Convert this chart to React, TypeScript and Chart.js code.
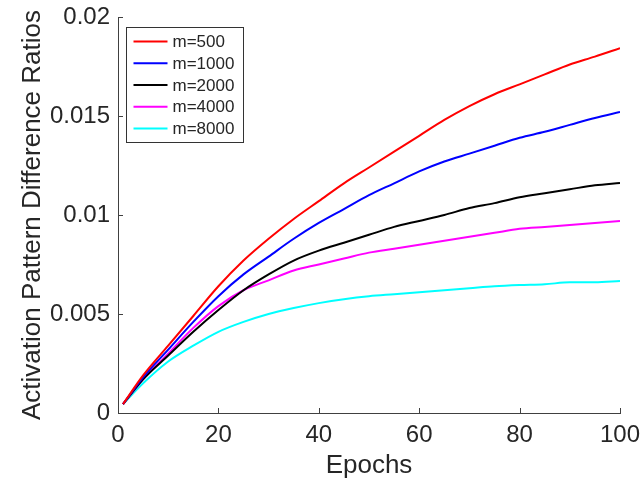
import { useEffect, useRef } from 'react';
import { Chart, registerables } from 'chart.js';

Chart.register(...registerables);

const epochs = [1, 5, 10, 15, 20, 25, 30, 35, 40, 45, 50, 55, 60, 65, 70, 75, 80, 85, 90, 95, 100];

const seriesLabels = ['m=500', 'm=1000', 'm=2000', 'm=4000', 'm=8000'];
const seriesColors = ['#ff0000', '#0000ff', '#000000', '#ff00ff', '#00ffff'];

const m500 = [0.00045, 0.0019, 0.0034, 0.0049, 0.0064, 0.0077, 0.0088, 0.0098, 0.0107, 0.0116, 0.0124, 0.0132, 0.014, 0.0148, 0.0155, 0.0161, 0.0166, 0.0171, 0.0176, 0.018, 0.01843];
const m1000 = [0.00045, 0.0018, 0.0032, 0.0046, 0.0059, 0.007, 0.0079, 0.0088, 0.0096, 0.0103, 0.011, 0.0116, 0.0122, 0.0127, 0.0131, 0.0135, 0.0139, 0.0142, 0.01455, 0.0149, 0.0152];
const m2000 = [0.00045, 0.0017, 0.0029, 0.0041, 0.0052, 0.0062, 0.007, 0.0077, 0.0082, 0.0086, 0.009, 0.0094, 0.0097, 0.01, 0.01035, 0.0106, 0.0109, 0.0111, 0.0113, 0.0115, 0.01162];
const m4000 = [0.00045, 0.0017, 0.003, 0.0043, 0.0054, 0.0062, 0.0067, 0.0072, 0.0075, 0.0078, 0.0081, 0.0083, 0.0085, 0.0087, 0.0089, 0.0091, 0.0093, 0.0094, 0.0095, 0.0096, 0.0097];
const m8000 = [0.00045, 0.0015, 0.0026, 0.0034, 0.0041, 0.0046, 0.005, 0.0053, 0.00555, 0.00575, 0.0059, 0.006, 0.0061, 0.0062, 0.0063, 0.0064, 0.00646, 0.0065, 0.0066, 0.0066, 0.00667];

const seriesValues = [m500, m1000, m2000, m4000, m8000];

const xTicks = [0, 20, 40, 60, 80, 100];
const yTicks = [0, 0.005, 0.01, 0.015, 0.02];
const yTickLabels = ['0', '0.005', '0.01', '0.015', '0.02'];

const FONT = '"Liberation Sans", Arial, Helvetica, sans-serif';
const TEXT = '#262626';
const AXIS = '#404040';

const zeroPad = (s: any) => {
  s.paddingTop = 0;
  s.paddingBottom = 0;
  s.paddingLeft = 0;
  s.paddingRight = 0;
};

const innerTicks = {
  id: 'innerTicks',
  afterDatasetsDraw(chart: any) {
    const { ctx, chartArea, scales } = chart;
    const x = scales.x;
    const y = scales.y;
    ctx.save();
    ctx.strokeStyle = AXIS;
    ctx.lineWidth = 1;
    ctx.beginPath();
    x.ticks.forEach((t: any) => {
      const px = Math.round(x.getPixelForValue(t.value)) + 0.5;
      ctx.moveTo(px, chartArea.bottom);
      ctx.lineTo(px, chartArea.bottom - 5);
    });
    y.ticks.forEach((t: any) => {
      const py = Math.round(y.getPixelForValue(t.value)) + 0.5;
      ctx.moveTo(chartArea.left, py);
      ctx.lineTo(chartArea.left + 5, py);
    });
    ctx.stroke();
    ctx.restore();
  },
};

const boxLegend = {
  id: 'boxLegend',
  afterDatasetsDraw(chart: any) {
    const { ctx, chartArea } = chart;
    const left = chartArea.left + 8.5;
    const top = chartArea.top + 10.5;
    const w = 117;
    const h = 115;
    ctx.save();
    ctx.fillStyle = '#ffffff';
    ctx.fillRect(left, top, w, h);
    ctx.strokeStyle = '#333333';
    ctx.lineWidth = 1;
    ctx.strokeRect(left, top, w, h);
    ctx.font = `17px ${FONT}`;
    ctx.textBaseline = 'middle';
    ctx.textAlign = 'left';
    chart.data.datasets.forEach((ds: any, i: number) => {
      const cy = top + 14 + i * 21.75;
      ctx.strokeStyle = ds.borderColor;
      ctx.lineWidth = 2;
      ctx.beginPath();
      ctx.moveTo(left + 7, cy);
      ctx.lineTo(left + 41, cy);
      ctx.stroke();
      ctx.fillStyle = TEXT;
      ctx.fillText(ds.label, left + 46, cy + 1);
    });
    ctx.restore();
  },
};

export default function App() {
  const ref = useRef<HTMLCanvasElement | null>(null);

  useEffect(() => {
    document.body.style.margin = '0';
    const canvas = ref.current;
    if (!canvas) return;
    const chart = new Chart(canvas, {
      type: 'line',
      data: {
        datasets: seriesLabels.map((label, i) => ({
          label,
          data: epochs.map((e, j) => ({ x: e, y: seriesValues[i][j] })),
          borderColor: seriesColors[i],
          backgroundColor: seriesColors[i],
          borderWidth: 2,
          pointRadius: 0,
          tension: 0.4,
          cubicInterpolationMode: 'monotone' as const,
          fill: false,
        })),
      },
      options: {
        animation: false,
        responsive: false,
        devicePixelRatio: 1,
        layout: { padding: { left: 0, right: 21, top: 17, bottom: 0 } },
        plugins: {
          legend: { display: false },
          tooltip: { enabled: false },
        },
        scales: {
          x: {
            type: 'linear',
            min: 0,
            max: 100,
            afterBuildTicks: (s: any) => {
              s.ticks = xTicks.map((v) => ({ value: v }));
            },
            afterFit: (s: any) => {
              s.height = 68;
              zeroPad(s);
            },
            ticks: {
              color: TEXT,
              font: { family: FONT, size: 24 },
              padding: 8,
              maxRotation: 0,
              callback: (v: any) => String(v),
            },
            grid: { display: true, drawOnChartArea: false, drawTicks: false, color: AXIS },
            border: { display: true, color: AXIS, width: 1 },
            title: {
              display: true,
              text: 'Epochs',
              color: TEXT,
              font: { family: FONT, size: 26 },
              padding: { top: 0, bottom: 0 },
            },
          },
          y: {
            type: 'linear',
            min: 0,
            max: 0.02,
            afterBuildTicks: (s: any) => {
              s.ticks = yTicks.map((v) => ({ value: v }));
            },
            afterFit: (s: any) => {
              s.width = 118;
              zeroPad(s);
            },
            ticks: {
              color: TEXT,
              font: { family: FONT, size: 24 },
              padding: 8,
              callback: (_v: any, idx: number) => yTickLabels[idx],
            },
            grid: { display: true, drawOnChartArea: false, drawTicks: false, color: AXIS },
            border: { display: true, color: AXIS, width: 1 },
            title: {
              display: true,
              text: 'Activation Pattern Difference Ratios',
              color: TEXT,
              font: { family: FONT, size: 26 },
              padding: { top: 17, bottom: 0 },
            },
          },
        },
      },
      plugins: [innerTicks, boxLegend],
    });
    return () => chart.destroy();
  }, []);

  return (
    <div style={{ width: 641, height: 481 }}>
      <canvas ref={ref} width={641} height={481} style={{ display: 'block', width: 641, height: 481 }} />
    </div>
  );
}
